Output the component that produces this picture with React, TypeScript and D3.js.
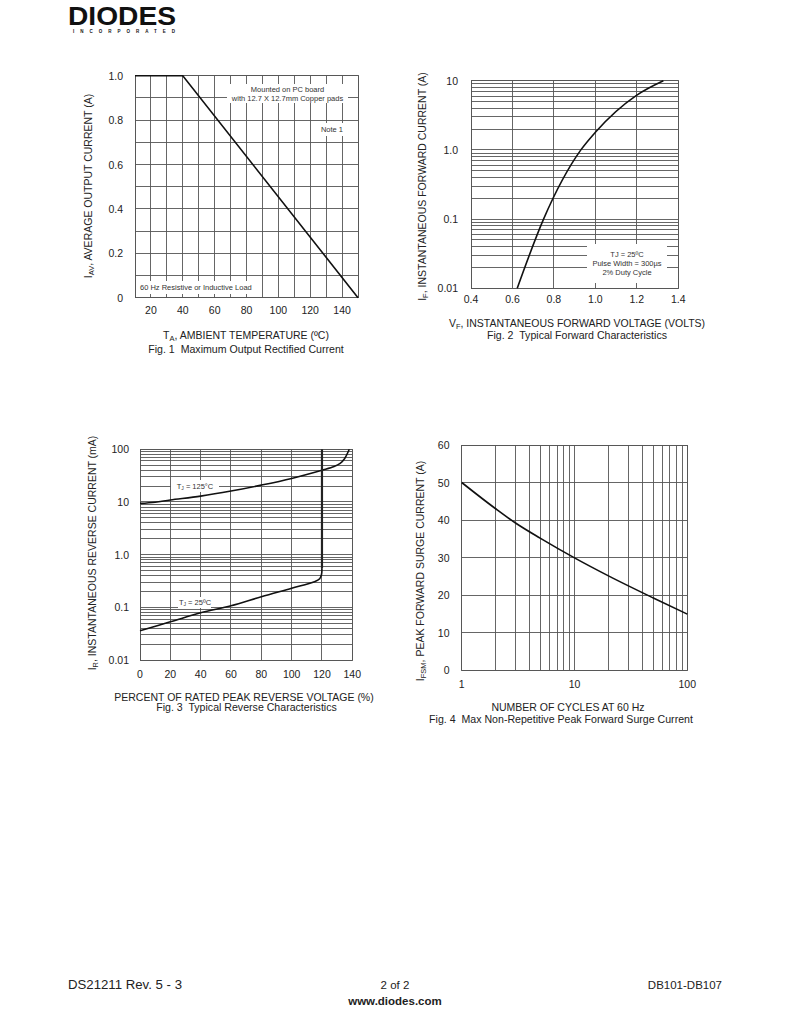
import React from 'react';
import * as d3 from 'd3';

const FONT = '"Liberation Sans", Arial, Helvetica, sans-serif';
const GRID = '#555';

// ---------- Fig. 1 data ----------
const fig1Temp = [10, 40, 150];
const fig1Current = [1.0, 1.0, 0];
const fig1XTicks = [20, 40, 60, 80, 100, 120, 140];
const fig1YTicks = [0, 0.2, 0.4, 0.6, 0.8, 1.0];
const fig1YLabels = ['0', '0.2', '0.4', '0.6', '0.8', '1.0'];

// ---------- Fig. 2 data ----------
const fig2Vf = [0.623, 0.75, 0.93, 1.0, 1.2, 1.328];
const fig2If = [0.01, 0.1, 1.0, 1.8, 6.2, 10];
const fig2XTicks = [0.4, 0.6, 0.8, 1.0, 1.2, 1.4];
const fig2XLabels = ['0.4', '0.6', '0.8', '1.0', '1.2', '1.4'];
const fig2YTicks = [0.01, 0.1, 1, 10];
const fig2YLabels = ['0.01', '0.1', '1.0', '10'];

// ---------- Fig. 3 data ----------
const fig3Pct125 = [0, 10, 20, 40, 60, 80, 100, 120, 128, 132, 135, 138];
const fig3Ir125 = [9.4, 9.9, 10.9, 12.9, 16.1, 20.9, 28, 40, 47, 54, 67, 100];
const fig3Pct25 = [0, 20, 40, 60, 80, 100, 115, 118.5, 119.7, 120];
const fig3Ir25 = [0.036, 0.053, 0.079, 0.107, 0.159, 0.23, 0.306, 0.35, 0.42, 0.55];
const fig3Breakdown = [120, 120];
const fig3BreakdownIr = [0.55, 100];
const fig3XTicks = [0, 20, 40, 60, 80, 100, 120, 140];
const fig3YTicks = [0.01, 0.1, 1, 10, 100];
const fig3YLabels = ['0.01', '0.1', '1.0', '10', '100'];

// ---------- Fig. 4 data ----------
const fig4Cycles = [1, 2, 3, 5, 10, 20, 50, 100];
const fig4Ifsm = [50, 43.0, 39.2, 35.1, 29.9, 25.1, 19.2, 14.9];
const fig4XTicks = [1, 10, 100];
const fig4YTicks = [0, 10, 20, 30, 40, 50, 60];

type Pt = [number, number];
const zip = (a: number[], b: number[]): Pt[] => a.map((v, i) => [v, b[i]]);

function Grid({ x, y, xs, ys }: any) {
  const [x0, x1] = x.range();
  const [y0, y1] = y.range();
  return (
    <g stroke={GRID} strokeWidth={0.9} shapeRendering="crispEdges">
      {xs.map((v: number, i: number) => (
        <line key={'x' + i} x1={x(v)} x2={x(v)} y1={y0} y2={y1} />
      ))}
      {ys.map((v: number, i: number) => (
        <line key={'y' + i} x1={x0} x2={x1} y1={y(v)} y2={y(v)} />
      ))}
      <rect x={x0} y={y1} width={x1 - x0} height={y0 - y1} fill="none" />
    </g>
  );
}

function XLabels({ x, ticks, labels, yPos }: any) {
  return (
    <g fontSize={10.5} fill="#222" textAnchor="middle">
      {ticks.map((v: number, i: number) => (
        <text key={i} x={x(v)} y={yPos} dominantBaseline="central">
          {labels ? labels[i] : String(v)}
        </text>
      ))}
    </g>
  );
}

function YLabels({ y, ticks, labels, xPos }: any) {
  return (
    <g fontSize={10.5} fill="#222" textAnchor="end">
      {ticks.map((v: number, i: number) => (
        <text key={i} x={xPos} y={y(v)} dominantBaseline="central">
          {labels ? labels[i] : String(v)}
        </text>
      ))}
    </g>
  );
}

function YTitle({ cx, cy, main, sub, rest }: any) {
  return (
    <text
      transform={`translate(${cx},${cy}) rotate(-90)`}
      textAnchor="middle"
      dominantBaseline="central"
      fontSize={10.5}
      fill="#222"
    >
      <tspan>{main}</tspan>
      <tspan fontSize={7.5} dy={3}>{sub}</tspan>
      <tspan dy={-3}>{rest}</tspan>
    </text>
  );
}

function Caption({ x, y, children }: any) {
  return (
    <text
      x={x}
      y={y}
      fontSize={10.6}
      textAnchor="middle"
      dominantBaseline="central"
      fill="#222"
      style={{ whiteSpace: 'pre' }}
    >
      {children}
    </text>
  );
}

function Label({ x, y, w, h, lines, size = 7.5, anchor = 'middle', tx }: any) {
  const lh = size * 1.2;
  const startY = y + h / 2 - ((lines.length - 1) * lh) / 2;
  const textX = tx !== undefined ? tx : x + w / 2;
  return (
    <g>
      <rect x={x} y={y} width={w} height={h} fill="#fff" />
      {lines.map((l: any, i: number) => (
        <text
          key={i}
          x={textX}
          y={startY + i * lh}
          fontSize={size}
          textAnchor={anchor}
          dominantBaseline="central"
          fill="#333"
        >
          {l}
        </text>
      ))}
    </g>
  );
}

export default function App() {
  // ---- Fig 1 ----
  const x1 = d3.scaleLinear().domain([10, 150]).range([135, 358]);
  const y1 = d3.scaleLinear().domain([0, 1]).range([297.7, 75.7]);
  const line1 = d3
    .line<Pt>()
    .x((d) => x1(d[0]))
    .y((d) => y1(d[1]));

  // ---- Fig 2 ----
  const x2 = d3.scaleLinear().domain([0.4, 1.4]).range([471, 678.3]);
  const y2 = d3.scaleLog().domain([0.01, 10]).range([288.3, 80.7]);
  const line2 = d3
    .line<Pt>()
    .x((d) => x2(d[0]))
    .y((d) => y2(d[1]))
    .curve(d3.curveMonotoneX);

  // ---- Fig 3 ----
  const x3 = d3.scaleLinear().domain([0, 140]).range([140, 352.3]);
  const y3 = d3.scaleLog().domain([0.01, 100]).range([660, 449.3]);
  const line3 = d3
    .line<Pt>()
    .x((d) => x3(d[0]))
    .y((d) => y3(d[1]))
    .curve(d3.curveCatmullRom.alpha(0.5));
  const line3s = d3
    .line<Pt>()
    .x((d) => x3(d[0]))
    .y((d) => y3(d[1]));

  // ---- Fig 4 ----
  const x4 = d3.scaleLog().domain([1, 100]).range([461.7, 687.3]);
  const y4 = d3.scaleLinear().domain([0, 60]).range([670, 445]);
  const line4 = d3
    .line<Pt>()
    .x((d) => x4(d[0]))
    .y((d) => y4(d[1]))
    .curve(d3.curveMonotoneX);

  return (
    <div style={{ position: 'absolute', left: 0, top: 0 }}>
      <svg width={791} height={1024} fontFamily={FONT} style={{ display: 'block', background: '#fff' }}>
        {/* Logo */}
        <text x={68} y={25} fontSize={25} fontWeight={900} fill="#111" textLength={108} lengthAdjust="spacingAndGlyphs">
          DIODES
        </text>
        <text x={73} y={33} fontSize={4.5} fontWeight={700} fill="#111" textLength={102} lengthAdjust="spacing">
          INCORPORATED
        </text>

        {/* ================= Fig 1 ================= */}
        <Grid x={x1} y={y1} xs={d3.range(10, 151, 10)} ys={d3.range(0, 1.001, 0.1)} />
        <Label x={227} y={84} w={121} h={19} lines={['Mounted on PC board', 'with 12.7 X 12.7mm Copper pads']} />
        <Label x={316} y={123} w={32} h={13} lines={['Note 1']} anchor="end" tx={343} />
        <Label x={136} y={281} w={126} h={13} lines={['60 Hz Resistive or Inductive Load']} anchor="start" tx={140} />
        <path d={line1(zip(fig1Temp, fig1Current)) || ''} fill="none" stroke="#111" strokeWidth={1.6} />
        <XLabels x={x1} ticks={fig1XTicks} yPos={310} />
        <YLabels y={y1} ticks={fig1YTicks} labels={fig1YLabels} xPos={123} />
        <YTitle cx={88} cy={186} main="I" sub="AV" rest=", AVERAGE OUTPUT CURRENT (A)" />
        <text x={246} y={335} fontSize={10.5} textAnchor="middle" dominantBaseline="central" fill="#222">
          <tspan>T</tspan>
          <tspan fontSize={7.5} dy={3}>A</tspan>
          <tspan dy={-3}>, AMBIENT TEMPERATURE (ºC)</tspan>
        </text>
        <Caption x={246} y={349}>{'Fig. 1  Maximum Output Rectified Current'}</Caption>

        {/* ================= Fig 2 ================= */}
        <Grid x={x2} y={y2} xs={d3.range(0.4, 1.401, 0.2)} ys={y2.ticks()} />
        <Label
          x={587}
          y={244}
          w={80}
          h={39}
          lines={['TJ = 25ºC', 'Pulse Width = 300µs', '2% Duty Cycle']}
        />
        <path d={line2(zip(fig2Vf, fig2If)) || ''} fill="none" stroke="#111" strokeWidth={1.6} />
        <XLabels x={x2} ticks={fig2XTicks} labels={fig2XLabels} yPos={299} />
        <YLabels y={y2} ticks={fig2YTicks} labels={fig2YLabels} xPos={458} />
        <YTitle cx={421.5} cy={186.5} main="I" sub="F" rest=", INSTANTANEOUS FORWARD CURRENT (A)" />
        <text x={577} y={323} fontSize={10.5} textAnchor="middle" dominantBaseline="central" fill="#222">
          <tspan>V</tspan>
          <tspan fontSize={7.5} dy={3}>F</tspan>
          <tspan dy={-3}>, INSTANTANEOUS FORWARD VOLTAGE (VOLTS)</tspan>
        </text>
        <Caption x={577} y={335}>{'Fig. 2  Typical Forward Characteristics'}</Caption>

        {/* ================= Fig 3 ================= */}
        <Grid x={x3} y={y3} xs={d3.range(0, 141, 20)} ys={y3.ticks()} />
        <g>
          <rect x={171} y={480} width={48} height={12} fill="#fff" />
          <text x={195} y={486} fontSize={7.5} textAnchor="middle" dominantBaseline="central" fill="#333">
            <tspan>T</tspan>
            <tspan fontSize={5} dy={2}>J</tspan>
            <tspan dy={-2}> = 125°C</tspan>
          </text>
          <rect x={178} y={597} width={33} height={11} fill="#fff" />
          <text x={195} y={602} fontSize={7.5} textAnchor="middle" dominantBaseline="central" fill="#333">
            <tspan>T</tspan>
            <tspan fontSize={5} dy={2}>J</tspan>
            <tspan dy={-2}> = 25ºC</tspan>
          </text>
        </g>
        <path d={line3(zip(fig3Pct125, fig3Ir125)) || ''} fill="none" stroke="#111" strokeWidth={1.6} />
        <path d={line3(zip(fig3Pct25, fig3Ir25)) || ''} fill="none" stroke="#111" strokeWidth={1.6} />
        <path d={line3s(zip(fig3Breakdown, fig3BreakdownIr)) || ''} fill="none" stroke="#222" strokeWidth={2.2} />
        <XLabels x={x3} ticks={fig3XTicks} yPos={673.5} />
        <YLabels y={y3} ticks={fig3YTicks} labels={fig3YLabels} xPos={129} />
        <YTitle cx={92} cy={553} main="I" sub="R" rest=", INSTANTANEOUS REVERSE CURRENT (mA)" />
        <text x={244} y={696.5} fontSize={10.5} textAnchor="middle" dominantBaseline="central" fill="#222">
          PERCENT OF RATED PEAK REVERSE VOLTAGE (%)
        </text>
        <Caption x={246.5} y={707}>{'Fig. 3  Typical Reverse Characteristics'}</Caption>

        {/* ================= Fig 4 ================= */}
        <Grid x={x4} y={y4} xs={x4.ticks()} ys={d3.range(0, 61, 10)} />
        <path d={line4(zip(fig4Cycles, fig4Ifsm)) || ''} fill="none" stroke="#111" strokeWidth={1.6} />
        <XLabels x={x4} ticks={fig4XTicks} yPos={684} />
        <YLabels y={y4} ticks={fig4YTicks} xPos={449.5} />
        <YTitle cx={420} cy={571} main="I" sub="FSM" rest=", PEAK FORWARD SURGE CURRENT (A)" />
        <text x={568} y={706.5} fontSize={10.5} textAnchor="middle" dominantBaseline="central" fill="#222">
          NUMBER OF CYCLES AT 60 Hz
        </text>
        <Caption x={561} y={718.5}>{'Fig. 4  Max Non-Repetitive Peak Forward Surge Current'}</Caption>

        {/* Footer */}
        <g fontSize={11.5} fill="#222" dominantBaseline="central">
          <text x={68} y={985} fontSize={12} textLength={114} lengthAdjust="spacingAndGlyphs">DS21211 Rev. 5 - 3</text>
          <text x={395} y={985} textAnchor="middle">2 of 2</text>
          <text x={722} y={985} textAnchor="end">DB101-DB107</text>
          <text x={395} y={1001} textAnchor="middle" fontWeight={700}>www.diodes.com</text>
        </g>
      </svg>
    </div>
  );
}
